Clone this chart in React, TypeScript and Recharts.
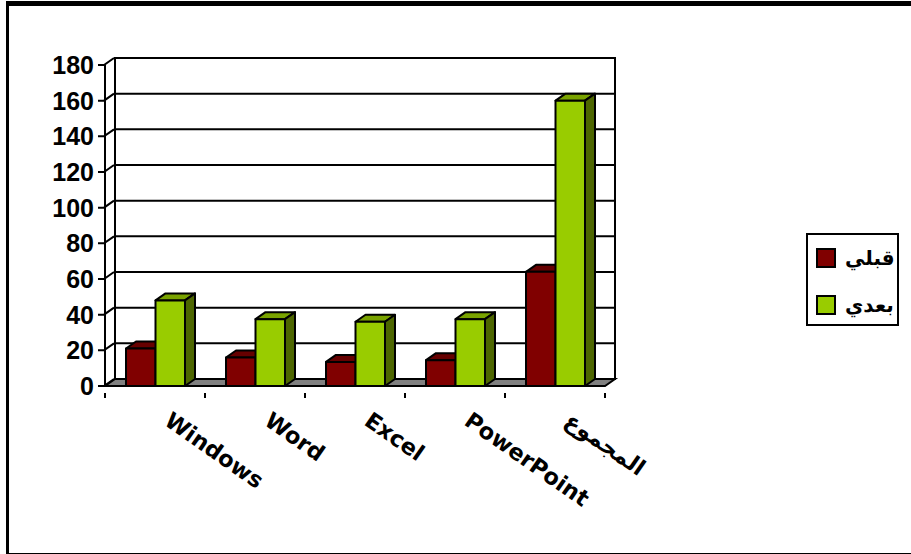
import { BarChart, Bar, XAxis, YAxis, CartesianGrid, usePlotArea } from "recharts";

const categories = ["Windows", "Word", "Excel", "PowerPoint", "المجموع"];
const beforeValues = [21, 16, 13.5, 14.5, 64];
const afterValues = [48, 37.5, 36, 37.5, 160];
const yTicks = [0, 20, 40, 60, 80, 100, 120, 140, 160, 180];
const Y_MAX = 180;

const BEFORE = "قبلي";
const AFTER = "بعدي";

const RED = "#800000";
const RED_TOP = "#660000";
const RED_SIDE = "#400000";
const GREEN = "#99cc00";
const GREEN_TOP = "#7aa300";
const GREEN_SIDE = "#4d6600";

// depth of the fake 3d box
const DX = 10;
const DY = -7;
const LINE = 2;

const data = categories.map((name, i) => ({
  name,
  before: beforeValues[i],
  after: afterValues[i],
}));

function Walls() {
  const plot = usePlotArea();
  if (!plot) return null;
  const { x, y, width, height } = plot;
  const b = y + height;
  const r = x + width;
  return (
    <g>
      <polygon
        points={`${x},${b} ${r},${b} ${r + DX},${b + DY} ${x + DX},${b + DY}`}
        fill="#808080"
        stroke="#000"
        strokeWidth={LINE}
      />
      <path
        d={`M${x + DX},${b + DY} V${y + DY} H${r + DX} V${b + DY}`}
        fill="none"
        stroke="#000"
        strokeWidth={LINE}
      />
    </g>
  );
}

function YTick({ x, y, payload }: any) {
  const ax = x + 7;
  return (
    <g>
      <path
        d={`M${ax - 6},${y} H${ax} L${ax + DX},${y + DY}`}
        fill="none"
        stroke="#000"
        strokeWidth={LINE}
      />
      <text
        x={ax - 10}
        y={y + 9}
        textAnchor="end"
        fontFamily="Liberation Sans"
        fontWeight="bold"
        fontSize={25}
        fill="#000"
      >
        {payload.value}
      </text>
    </g>
  );
}

function XTick({ x, y, payload }: any) {
  return (
    <g>
      <path d={`M${x - 50},${y - 1} v5`} stroke="#000" strokeWidth={LINE} />
      <path d={`M${x + 50},${y - 1} v5`} stroke="#000" strokeWidth={LINE} />
      <text
        x={x + 8}
        y={y + 30}
        transform={`rotate(35 ${x + 8} ${y + 30})`}
        textAnchor="start"
        fontFamily="DejaVu Sans"
        fontWeight="bold"
        fontSize={22.5}
        fill="#000"
      >
        {payload.value}
      </text>
    </g>
  );
}

function Box({ x, y, width, height, front, top, side }: any) {
  return (
    <g stroke="#000" strokeWidth={LINE} strokeLinejoin="round">
      <polygon
        points={`${x},${y} ${x + width},${y} ${x + width + DX},${y + DY} ${x + DX},${y + DY}`}
        fill={top}
      />
      <polygon
        points={`${x + width},${y} ${x + width + DX},${y + DY} ${x + width + DX},${y + height + DY} ${x + width},${y + height}`}
        fill={side}
      />
      <rect x={x} y={y} width={width} height={height} fill={front} />
    </g>
  );
}

function LegendBox() {
  const rows = [
    { label: BEFORE, color: RED },
    { label: AFTER, color: GREEN },
  ];
  return (
    <div
      style={{
        position: "absolute",
        left: 806,
        top: 233,
        width: 93,
        height: 93,
        border: "2px solid #000",
        boxSizing: "border-box",
        background: "#fff",
      }}
    >
      {rows.map((row, i) => (
        <div key={row.label} style={{ position: "absolute", left: 8, top: 13 + i * 47, display: "flex", alignItems: "center", height: 20 }}>
          <span style={{ width: 20, height: 20, background: row.color, border: "2px solid #000", boxSizing: "border-box" }} />
          <span
            style={{
              marginLeft: 9,
              fontFamily: "DejaVu Sans",
              fontWeight: "bold",
              fontSize: 20,
              lineHeight: "20px",
              color: "#000",
              whiteSpace: "nowrap",
            }}
          >
            {row.label}
          </span>
        </div>
      ))}
    </div>
  );
}

export default function App() {
  return (
    <div style={{ position: "absolute", left: 0, top: 0, width: 911, height: 554, background: "#fff", overflow: "hidden" }}>
      <div
        style={{
          position: "absolute",
          left: 6,
          top: 1,
          width: 920,
          height: 553,
          borderTop: "5px solid #000",
          borderLeft: "3px solid #000",
          borderBottom: "1px solid #000",
          boxSizing: "border-box",
        }}
      />
      <div style={{ position: "absolute", left: 0, top: 0 }}>
        <BarChart
          width={911}
          height={554}
          data={data}
          barGap={0}
          barSize={29.5}
          margin={{ top: 65, right: 306, bottom: 0, left: 0 }}
        >
          <CartesianGrid
            vertical={false}
            stroke="#000"
            strokeWidth={LINE}
            x={115}
            width={501}
            horizontalCoordinatesGenerator={({ offset }: any) =>
              yTicks.map((t) => offset.top + offset.height * (1 - t / Y_MAX) + DY)
            }
          />
          <Walls />
          <YAxis
            type="number"
            domain={[0, Y_MAX]}
            ticks={yTicks}
            interval={0}
            width={105}
            axisLine={{ stroke: "#000", strokeWidth: LINE }}
            tickLine={false}
            tick={(props: any) => <YTick {...props} />}
          />
          <XAxis
            dataKey="name"
            interval={0}
            axisLine={{ stroke: "#000", strokeWidth: LINE }}
            tickLine={false}
            height={168}
            tick={(props: any) => <XTick {...props} />}
          />
          <Bar
            dataKey="before"
            name={BEFORE}
            isAnimationActive={false}
            shape={(props: any) => <Box {...props} front={RED} top={RED_TOP} side={RED_SIDE} />}
          />
          <Bar
            dataKey="after"
            name={AFTER}
            isAnimationActive={false}
            shape={(props: any) => <Box {...props} front={GREEN} top={GREEN_TOP} side={GREEN_SIDE} />}
          />
        </BarChart>
      </div>
      <LegendBox />
    </div>
  );
}
